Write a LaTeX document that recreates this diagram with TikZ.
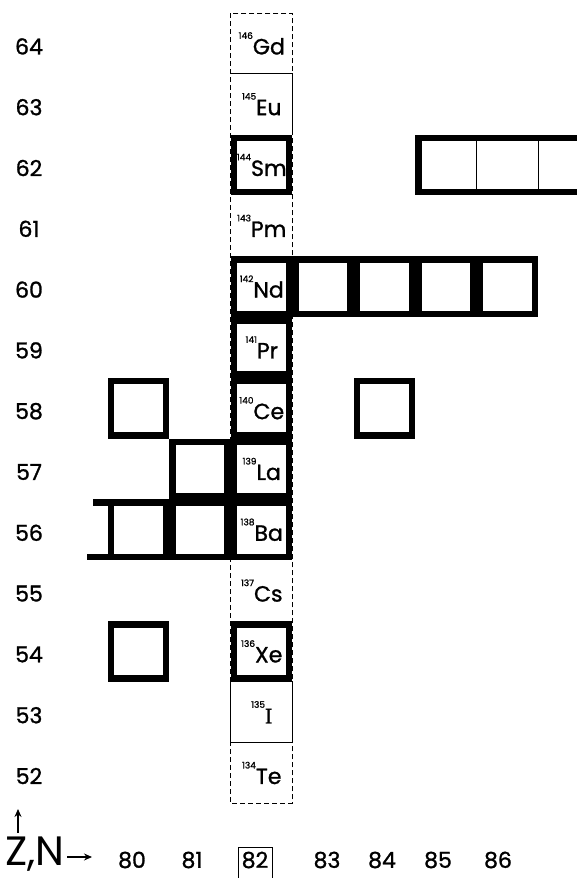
\documentclass[tikz,border=0pt]{standalone}
\usepackage{fontspec}
\setmainfont{Poppins}
\newfontfamily\heavy{Poppins}[FakeBold=1.2]
\newfontfamily\serifface{Liberation Serif}[FakeBold=1.2]
\usetikzlibrary{arrows.meta,calc}
% mass number set small, raised to the cap height of the symbol
\newcommand\mass[1]{\raisebox{15.5pt}{\fontsize{9}{9}\selectfont #1}}

\begin{document}
\begin{tikzpicture}[x=1pt,y=-1pt,
  thickcell/.style={draw, line width=6.5pt, minimum width=55pt, minimum height=54.3pt,
                    inner sep=0pt, outer sep=0pt},
  nuclide/.style={font=\heavy\fontsize{22}{22}\selectfont, inner sep=0pt},
  rowlab/.style={font=\heavy\fontsize{22}{22}\selectfont, inner sep=0pt},
  colframe/.style={line width=0.9pt, dash pattern=on 5pt off 3pt},
  rule/.style={line width=0.9pt},
  axarrow/.style={-{Stealth[length=8pt,width=7pt]}, line width=1.3pt}]
\useasboundingbox (0,0) rectangle (577,878);

% cell centres: column = N (80..87), row = Z (52..64)
\foreach \n in {80,...,87}
  \foreach \z in {52,...,64}
    \coordinate (p\n-\z) at ({138.25+(\n-80)*61.5},{43.4+(64-\z)*60.8});

% the N = 82 column, dashed
\draw[colframe] ($(p82-64)+(-30.75,-30.4)$) rectangle ($(p82-52)+(30.75,30.4)$);
% thin solid edges
\draw[rule] ($(p82-63)+(-30.75,-30.4)$) -- ($(p82-63)+(30.75,-30.4)$)
            -- ($(p82-63)+(30.75,30.4)$);
\draw[rule] ($(p82-53)+(-30.75,-30.4)$) rectangle ($(p82-53)+(30.75,30.4)$);

% stable nuclei: heavy boxes
\foreach \n/\z in {82/62, 82/60, 83/60, 84/60, 85/60, 86/60, 82/59,
                   82/58, 80/58, 84/58, 82/57, 81/57, 82/56, 81/56, 80/56,
                   82/54, 80/54}
  \node[thickcell] (c\n-\z) at (p\n-\z) {};

% Z = 62, N = 85..87 group
\node[thickcell, minimum width=178pt] (g62) at (p86-62) {};
\draw[rule] ([xshift=-30.75pt]g62.north) -- ([xshift=-30.75pt]g62.south);
\draw[rule] ([xshift=30.75pt]g62.north) -- ([xshift=30.75pt]g62.south);

% Z = 56 row continues to the left
\draw[line width=6.5pt] (c80-56.north west) -- ++(-18,0);
\draw[line width=6.5pt] (c80-56.south west) -- ++(-24,0);

% nuclide symbols in the N = 82 column
\foreach \z/\a/\s in {64/146/Gd, 63/145/Eu, 62/144/Sm, 61/143/Pm, 60/142/Nd,
                      59/141/Pr, 58/140/Ce, 57/139/La, 56/138/Ba, 55/137/Cs,
                      54/136/Xe, 53/135/{\serifface I}, 52/134/Te}
  \node[nuclide] (el\z) at ([xshift=0.5pt]p82-\z) {\mass{\a}\s};

% Z labels
\foreach \z in {52,...,64}
  \node[rowlab] (r\z) at (29,{46.4+(64-\z)*60.8}) {\z};

% N labels
\node[rowlab] (a80) at (132,860) {80};
\node[rowlab] (a81) at (192,860) {81};
\node[rowlab] (a82) at (255,860) {82};
\node[rowlab] (a83) at (327,860) {83};
\node[rowlab] (a84) at (382,860) {84};
\node[rowlab] (a85) at (438,860) {85};
\node[rowlab] (a86) at (498,860) {86};
\draw[rule] ($(a82.center)+(-17,-13)$) rectangle ($(a82.center)+(17,25)$);

% axes
\node[font=\fontsize{41}{41}\selectfont, anchor=base west, inner sep=0pt] (zn) at (5,865) {Z,N};
\coordinate (zup0) at (18,833);
\coordinate (zup1) at (18,809);
\draw[axarrow] (zup0) -- (zup1);
\coordinate (nrt0) at (67,857);
\coordinate (nrt1) at (92,857);
\draw[axarrow] (nrt0) -- (nrt1);
\end{tikzpicture}
\end{document}
